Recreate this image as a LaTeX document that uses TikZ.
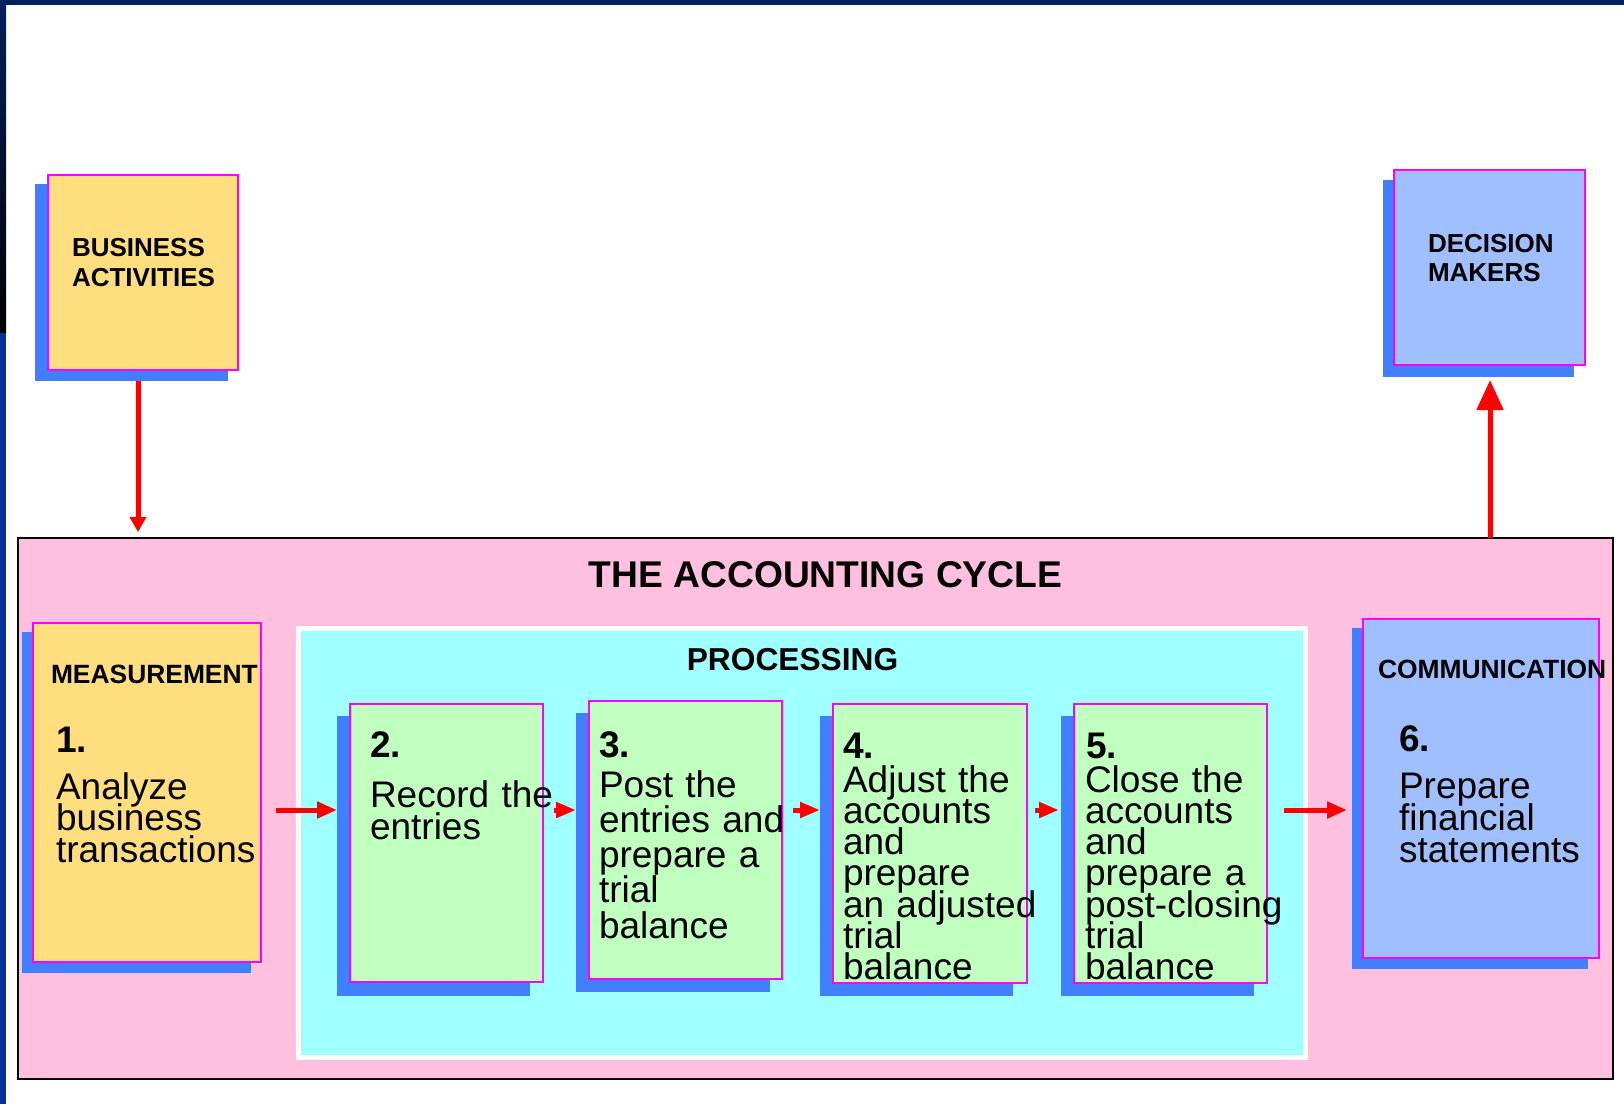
\documentclass[tikz,border=0pt]{standalone}
\usepackage{fontspec}
\setmainfont{Liberation Sans}
\usetikzlibrary{arrows.meta}
\definecolor{yel}{HTML}{FFDE80}
\definecolor{mag}{HTML}{FF00FF}
\definecolor{shad}{HTML}{4080FF}
\definecolor{pinkbg}{HTML}{FFBFDF}
\definecolor{cyanbg}{HTML}{A0FFFF}
\definecolor{greenbg}{HTML}{C0FFC0}
\definecolor{lblue}{HTML}{A0BFFF}
\definecolor{navy}{HTML}{002060}
\definecolor{leftblue}{HTML}{003399}
\setlength{\lineskiplimit}{-100pt}
\setlength{\normallineskiplimit}{-100pt}
\newcommand\mkbox[6]{\node[#6, minimum width={#4-#2}, minimum height={#5-#3}, anchor=north west] (#1) at (#2,#3) {};}
\begin{document}
\begin{tikzpicture}[x=1pt,y=-1pt,
  every node/.style={inner sep=0pt, outer sep=0pt},
  shadowbox/.style={rectangle, fill=shad, draw=none},
  mainbox/.style={rectangle, draw=mag, line width=2.5pt},
  tight/.style={execute at begin node=\setlength{\lineskiplimit}{-100pt}},
  hd/.style={font=\fontsize{#1}{30}\selectfont\bfseries, anchor=base west},
  hd/.default=26.2,
  hdblock/.style={font=\fontsize{26}{#1}\selectfont\bfseries, anchor=base west, align=left, text width=220pt, tight},
  num/.style={font=\fontsize{37}{37}\selectfont\bfseries, anchor=base west},
  body/.style={font=\fontsize{37}{#1}\selectfont, anchor=base west, align=left, text width=320pt, tight},
  body/.default=31.5,
  arr/.style={draw=red, line width=5pt, -{Triangle[length=20pt,width=16pt]}},
  smallarr/.style={draw=red, line width=5pt, -{Triangle[length=20pt,width=15pt]}},
]
\useasboundingbox (0,0) rectangle (1624,1104);
\fill[white] (0,0) rectangle (1624,1104);
% frame strips
\shade[top color=navy, bottom color=black] (0,0) rectangle (6,333);
\fill[leftblue] (0,333) rectangle (6,1104);
\fill[navy] (0,0) rectangle (1624,4.5);

% business activities
\mkbox{bash}{35}{184}{228}{381}{shadowbox}
\mkbox{ba}{48}{175}{238}{370}{mainbox, fill=yel}
\node[hdblock=30] (batext) at (72,256) {BUSINESS\\ACTIVITIES};

% decision makers
\mkbox{dmsh}{1383}{180}{1574}{377}{shadowbox}
\mkbox{dm}{1394}{170}{1585}{365}{mainbox, fill=lblue}
\node[hdblock=29] (dmtext) at (1428,252) {DECISION\\MAKERS};

% accounting cycle frame
\mkbox{cycle}{18}{538}{1613}{1079}{rectangle, draw=black, line width=2.5pt, fill=pinkbg}
\node[font=\fontsize{37.2}{40}\selectfont\bfseries, anchor=base] (title) at (825.5,587) {THE ACCOUNTING CYCLE};

% processing area
\mkbox{proc}{298.5}{628.5}{1305.5}{1057.5}{rectangle, draw=white, line width=5pt, fill=cyanbg}
\node[font=\fontsize{31.7}{34}\selectfont\bfseries, anchor=base] (proctitle) at (792.5,670) {PROCESSING};

% box 1 measurement
\mkbox{s1}{22}{632}{251}{973}{shadowbox}
\mkbox{b1}{33}{623}{261}{962}{mainbox, fill=yel}
\node[hd=26.4] (h1) at (51,683) {MEASUREMENT};
\node[num] (n1) at (56,752) {1.};
\node[body=31.5] (t1) at (56,799) {Analyze\\business\\transactions};

% box 2
\mkbox{s2}{337}{716}{530}{996}{shadowbox}
\mkbox{b2}{350}{704}{543}{982}{mainbox, fill=greenbg}
\node[num] (n2) at (370,757) {2.};
\node[body=32] (t2) at (370,807) {Record the\\entries};

% box 3
\mkbox{s3}{576}{713}{770}{992}{shadowbox}
\mkbox{b3}{589}{701}{782}{979}{mainbox, fill=greenbg}
\node[num] (n3) at (599,757) {3.};
\node[body=35.3] (t3) at (599,797) {Post the\\entries and\\prepare a\\trial\\balance};

% box 4
\mkbox{s4}{820}{716}{1013}{996}{shadowbox}
\mkbox{b4}{833}{704}{1027}{983}{mainbox, fill=greenbg}
\node[num] (n4) at (843,758) {4.};
\node[body=31.3] (t4) at (843,792) {Adjust the\\accounts\\and\\prepare\\an adjusted\\trial\\balance};

% box 5
\mkbox{s5}{1061}{716}{1254}{996}{shadowbox}
\mkbox{b5}{1074}{704}{1267}{983}{mainbox, fill=greenbg}
\node[num] (n5) at (1086,758) {5.};
\node[body=31.3] (t5) at (1085,792) {Close the\\accounts\\and\\prepare a\\post-closing\\trial\\balance};

% box 6 communication
\mkbox{s6}{1352}{628}{1588}{969}{shadowbox}
\mkbox{b6}{1363}{619}{1599}{958}{mainbox, fill=lblue}
\node[hd=26.4] (h6) at (1378,678) {COMMUNICATION};
\node[num] (n6) at (1399,751) {6.};
\node[body=32] (t6) at (1399,798) {Prepare\\financial\\statements};

% connectors
\coordinate (row) at (0,810);
\coordinate (bax) at (138,0);
\coordinate (dmx) at (1490,0);
\draw[draw=red, line width=5pt, -{Triangle[length=15pt,width=16pt]}, shorten >=6pt] (bash.south -| bax) -- (cycle.north -| bax);
\draw[draw=red, line width=5pt, -{Triangle[length=30pt,width=26pt]}, shorten >=3pt] (cycle.north -| dmx) -- (dmsh.south -| dmx);
\draw[arr] ([xshift=15pt]b1.east |- row) -- (s2.west |- row);
\draw[smallarr] ([xshift=11pt]b2.east |- row) -- (s3.west |- row);
\draw[smallarr] ([xshift=11pt]b3.east |- row) -- (s4.west |- row);
\draw[smallarr] ([xshift=8pt]b4.east |- row) -- ([xshift=-2pt]s5.west |- row);
\draw[arr] ([xshift=17pt]b5.east |- row) -- ([xshift=-5pt]s6.west |- row);
\end{tikzpicture}
\end{document}
